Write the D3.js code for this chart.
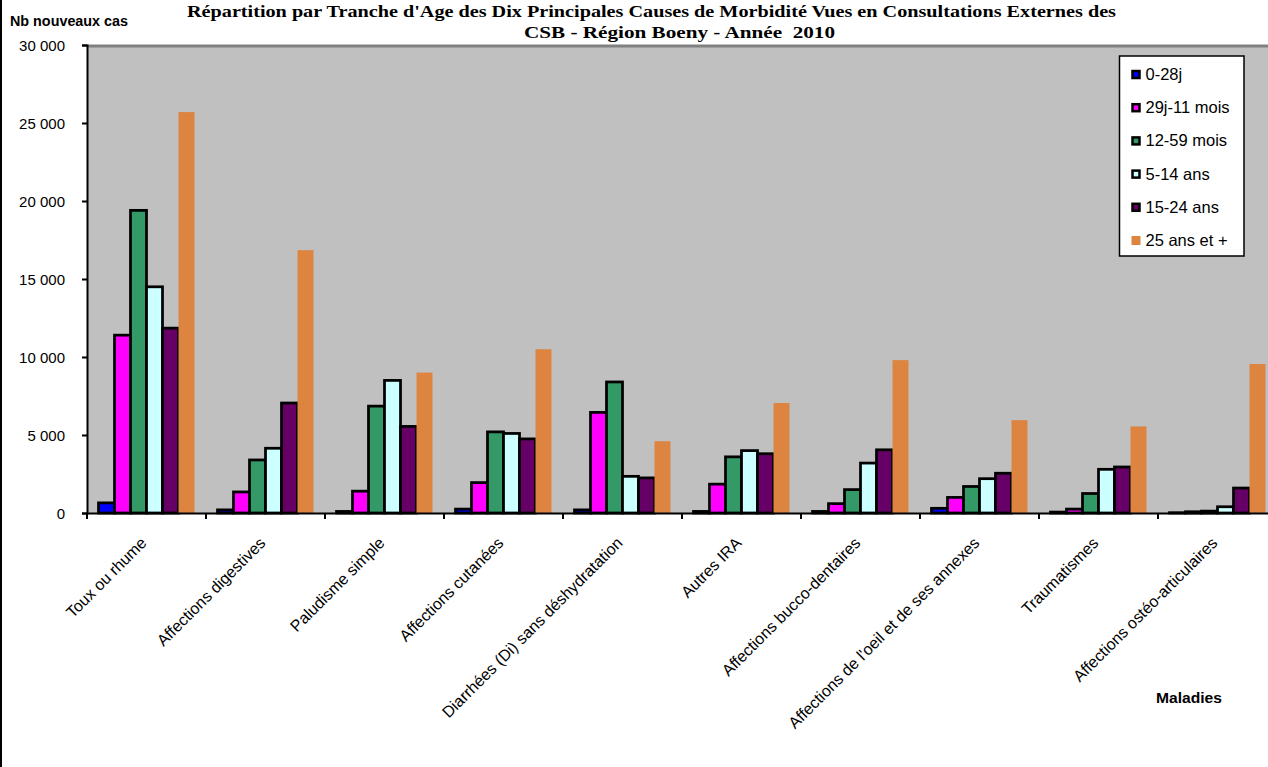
<!DOCTYPE html>
<html>
<head>
<meta charset="utf-8">
<script src="https://cdn.jsdelivr.net/npm/d3@7"></script>
<style>
  html, body { margin: 0; padding: 0; background: #fff; }
  svg { display: block; }
</style>
</head>
<body>
<svg id="chart" width="1268" height="767"></svg>
<script>
// ---------- DATA ----------
const categories = [
  "Toux ou rhume", "Affections digestives", "Paludisme simple", "Affections cutanées",
  "Diarrhées (Di) sans déshydratation", "Autres IRA", "Affections bucco-dentaires",
  "Affections de l'oeil et de ses annexes", "Traumatismes", "Affections ostéo-articulaires"
];
const seriesNames = ["0-28j", "29j-11 mois", "12-59 mois", "5-14 ans", "15-24 ans", "25 ans et +"];
const s0_28j    = [650, 200, 100, 250, 200, 100, 100, 300, 60, 20];
const s29j_11m  = [11400, 1350, 1400, 1950, 6450, 1850, 600, 1000, 250, 80];
const s12_59m   = [19400, 3400, 6850, 5200, 8400, 3600, 1500, 1700, 1250, 120];
const s5_14     = [14500, 4150, 8500, 5100, 2350, 4000, 3200, 2200, 2800, 400];
const s15_24    = [11850, 7050, 5550, 4750, 2250, 3800, 4050, 2550, 2950, 1600];
const s25plus   = [25700, 16850, 9000, 10500, 4600, 7050, 9800, 5950, 5550, 9550];
const yTicks = [0, 5000, 10000, 15000, 20000, 25000, 30000];
const titleLines = [
  "Répartition par Tranche d'Age des Dix Principales Causes de Morbidité Vues en Consultations Externes des",
  "CSB - Région Boeny - Année  2010"
];
const yAxisTitle = "Nb nouveaux cas";
const xAxisTitle = "Maladies";

(function () {
// ---------- STYLE / LAYOUT ----------
const seriesValues = [s0_28j, s29j_11m, s12_59m, s5_14, s15_24, s25plus];
const colors = ["#0000FF", "#FF00FF", "#339966", "#CCFFFF", "#660066", "#DD8441"];
const bordered = [true, true, true, true, true, false];
const sans = "Liberation Sans, Arial, sans-serif";
const serif = "Liberation Serif, Times New Roman, serif";

const svg = d3.select("#chart");
const pLeft = 87, pTop = 45, pBottom = 513, bandW = 119;
const pRight = pLeft + bandW * categories.length;

const x0 = d3.scaleBand().domain(categories).range([pLeft, pRight]).padding(0);
const groupW = 96;
const x1 = d3.scaleBand().domain(seriesNames).range([0, groupW]).padding(0);
const y = d3.scaleLinear().domain([0, 30000]).range([pBottom, pTop]);

// outer left border of chart area
svg.append("line").attr("x1", 1).attr("x2", 1).attr("y1", 0).attr("y2", 767)
  .attr("stroke", "#000").attr("stroke-width", 2);

// plot area
svg.append("rect").attr("x", pLeft).attr("y", pTop).attr("width", pRight - pLeft).attr("height", pBottom - pTop)
  .attr("fill", "#C0C0C0");
svg.append("line").attr("x1", pLeft).attr("x2", pRight).attr("y1", pTop + 1).attr("y2", pTop + 1)
  .attr("stroke", "#808080").attr("stroke-width", 3);

// bars
const groups = svg.append("g").selectAll("g").data(categories).join("g")
  .attr("transform", d => `translate(${x0(d) + (bandW - groupW) / 2},0)`);
groups.selectAll("rect")
  .data((c, ci) => seriesNames.map((s, si) => ({ s, si, v: seriesValues[si][ci] })))
  .join("rect")
  .attr("x", d => x1(d.s))
  .attr("y", d => y(d.v))
  .attr("width", x1.bandwidth())
  .attr("height", d => pBottom - y(d.v))
  .attr("fill", d => colors[d.si])
  .attr("stroke", d => bordered[d.si] ? "#000" : "none")
  .attr("stroke-width", 2.75);

// y axis
const fmt = d3.formatLocale({ decimal: ",", thousands: "\u00a0", grouping: [3], currency: ["", ""] }).format(",d");
const yAxis = svg.append("g").attr("transform", `translate(${pLeft},0)`)
  .call(d3.axisLeft(y).tickValues(yTicks).tickFormat(fmt).tickSize(5).tickPadding(17));
yAxis.select(".domain").attr("stroke", "#000").attr("stroke-width", 2);
yAxis.selectAll(".tick line").attr("stroke", "#000").attr("stroke-width", 2);
yAxis.selectAll(".tick text").attr("font-family", sans)
  .attr("font-size", 15).attr("fill", "#000").attr("dy", "0.35em");

// x axis
const xAxis = svg.append("g").attr("transform", `translate(0,${pBottom})`)
  .call(d3.axisBottom(x0).tickSize(0).tickFormat(""));
xAxis.select(".domain").attr("stroke", "#000").attr("stroke-width", 2);
xAxis.selectAll(".tick").remove();
const boundaries = d3.range(categories.length + 1).map(i => pLeft + i * bandW);
xAxis.selectAll("line.sep").data(boundaries).join("line").attr("class", "sep")
  .attr("x1", d => d).attr("x2", d => d).attr("y1", 0).attr("y2", 6)
  .attr("stroke", "#000").attr("stroke-width", 2);

// x labels
svg.append("g").selectAll("text").data(categories).join("text")
  .attr("transform", d => `translate(${x0(d) + bandW / 2 + 1},${pBottom + 31}) rotate(-45)`)
  .attr("text-anchor", "end")
  .attr("font-family", sans)
  .attr("font-size", 16)
  .attr("fill", "#000")
  .text(d => d);

// titles
svg.append("text").attr("x", 187).attr("y", 17)
  .attr("font-family", serif).attr("font-weight", "bold")
  .attr("font-size", 17).attr("textLength", 929).attr("lengthAdjust", "spacingAndGlyphs")
  .text(titleLines[0]);
svg.append("text").attr("x", 524).attr("y", 38)
  .attr("font-family", serif).attr("font-weight", "bold")
  .attr("font-size", 17).attr("textLength", 311).attr("lengthAdjust", "spacingAndGlyphs")
  .style("white-space", "pre")
  .text(titleLines[1]);

svg.append("text").attr("x", 10).attr("y", 26)
  .attr("font-family", sans).attr("font-weight", "bold")
  .attr("font-size", 14).attr("textLength", 118).attr("lengthAdjust", "spacingAndGlyphs")
  .text(yAxisTitle);
svg.append("text").attr("x", 1156).attr("y", 703)
  .attr("font-family", sans).attr("font-weight", "bold")
  .attr("font-size", 15).attr("textLength", 66).attr("lengthAdjust", "spacingAndGlyphs")
  .text(xAxisTitle);

// legend
const lg = svg.append("g");
lg.append("rect").attr("x", 1119.5).attr("y", 56).attr("width", 124.5).attr("height", 200)
  .attr("fill", "#fff").attr("stroke", "#000").attr("stroke-width", 1.5);
const items = lg.selectAll("g.item").data(seriesNames).join("g").attr("class", "item")
  .attr("transform", (d, i) => `translate(1136,${74.5 + i * 33.2})`);
items.append("rect")
  .attr("x", (d, i) => bordered[i] ? -3.5 : -4.5)
  .attr("y", (d, i) => bordered[i] ? -3.5 : -4.5)
  .attr("width", (d, i) => bordered[i] ? 7 : 9)
  .attr("height", (d, i) => bordered[i] ? 7 : 9)
  .attr("fill", (d, i) => colors[i])
  .attr("stroke", (d, i) => bordered[i] ? "#000" : "none")
  .attr("stroke-width", 2.5);
items.append("text").attr("x", 9.5).attr("y", 5.5)
  .attr("font-family", sans)
  .attr("font-size", 16.5).attr("fill", "#000")
  .text(d => d);
})();
</script>
</body>
</html>
